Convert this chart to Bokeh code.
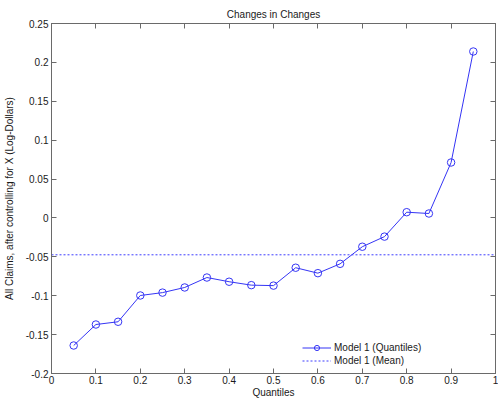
from bokeh.plotting import figure
from bokeh.models import LinearAxis, FixedTicker, Legend, LegendItem, Range1d
from bokeh.embed import file_html
from bokeh.resources import INLINE

# ---- data ----
quantiles = [0.05, 0.10, 0.15, 0.20, 0.25, 0.30, 0.35, 0.40, 0.45, 0.50,
             0.55, 0.60, 0.65, 0.70, 0.75, 0.80, 0.85, 0.90, 0.95]
effects = [-0.164, -0.137, -0.1335, -0.0997, -0.096, -0.0894, -0.0766, -0.082,
           -0.0864, -0.087, -0.064, -0.071, -0.059, -0.037, -0.024, 0.0074,
           0.0057, 0.0713, 0.214]
mean_effect = -0.0474
x_limits = [0.0, 1.0]
y_limits = [-0.2, 0.25]
x_ticks = [0.0, 0.1, 0.2, 0.3, 0.4, 0.5, 0.6, 0.7, 0.8, 0.9, 1.0]
x_tick_labels = ["0", "0.1", "0.2", "0.3", "0.4", "0.5", "0.6", "0.7", "0.8", "0.9", "1"]
y_ticks = [-0.2, -0.15, -0.1, -0.05, 0.0, 0.05, 0.1, 0.15, 0.2, 0.25]
y_tick_labels = ["-0.2", "-0.15", "-0.1", "-0.05", "0", "0.05", "0.1", "0.15", "0.2", "0.25"]
y_label = "All Claims, after controlling for X (Log-Dollars)"

FONT = "Liberation Sans"
TEXT = "#1a1a1a"
AXIS = "#6a6a6a"
BLUE = "#3535f5"
MEAN_BLUE = "#3c3cff"

p = figure(width=498, height=402, output_backend="svg", toolbar_location=None,
           x_range=Range1d(*x_limits), y_range=Range1d(*y_limits),
           min_border_left=0, min_border_right=3, min_border_top=23, min_border_bottom=29,
           title="Changes in Changes")
p.grid.visible = False
p.outline_line_color = AXIS
p.background_fill_color = "white"
p.border_fill_color = "white"

p.title.align = "center"
p.title.text_font = FONT
p.title.text_font_size = "10px"
p.title.text_font_style = "normal"
p.title.text_color = TEXT
p.title.standoff = 7

def style_axis(ax, ticks, labels, show_labels=True):
    ax.ticker = FixedTicker(ticks=ticks)
    ax.axis_line_color = AXIS
    ax.major_tick_line_color = AXIS
    ax.major_tick_in = 5
    ax.major_tick_out = 0
    ax.minor_tick_line_color = None
    ax.major_label_text_font = FONT
    ax.major_label_text_color = TEXT
    ax.axis_label_text_font = FONT
    ax.axis_label_text_font_size = "10px"
    ax.axis_label_text_font_style = "normal"
    ax.axis_label_text_color = TEXT
    if show_labels:
        ax.major_label_overrides = dict(zip(ticks, labels))
        ax.major_label_text_font_size = "10px"
        ax.major_label_standoff = 3
    else:
        ax.major_label_overrides = {t: "" for t in ticks}
        ax.major_label_text_font_size = "0px"
        ax.major_label_standoff = 0

style_axis(p.xaxis[0], x_ticks, x_tick_labels)
style_axis(p.yaxis[0], y_ticks, y_tick_labels)
p.xaxis[0].axis_label = "Quantiles"
p.xaxis[0].major_label_standoff = 2
p.xaxis[0].axis_label_standoff = 0
p.yaxis[0].axis_label = y_label
p.yaxis[0].axis_label_standoff = 8

top_axis = LinearAxis()
style_axis(top_axis, x_ticks, x_tick_labels, show_labels=False)
p.add_layout(top_axis, "above")
right_axis = LinearAxis()
style_axis(right_axis, y_ticks, y_tick_labels, show_labels=False)
p.add_layout(right_axis, "right")

line_r = p.line(quantiles, effects, line_color=BLUE, line_width=1)
circ_r = p.scatter(quantiles, effects, marker="circle", size=7.5,
                   fill_color=None, line_color=BLUE, line_width=1)
mean_r = p.line(x_limits, [mean_effect, mean_effect], line_color=MEAN_BLUE,
                line_width=1, line_dash="2 2")

legend = Legend(items=[LegendItem(label="Model 1 (Quantiles)", renderers=[line_r, circ_r]),
                       LegendItem(label="Model 1 (Mean)", renderers=[mean_r])],
                location=(251, 6), border_line_alpha=0, background_fill_alpha=0,
                label_text_font=FONT, label_text_font_size="10px", label_text_color=TEXT,
                glyph_width=29, glyph_height=13, label_height=13, spacing=0,
                padding=0, margin=0, label_standoff=3)
p.add_layout(legend)

open("out.html", "w").write(file_html(p, INLINE))
